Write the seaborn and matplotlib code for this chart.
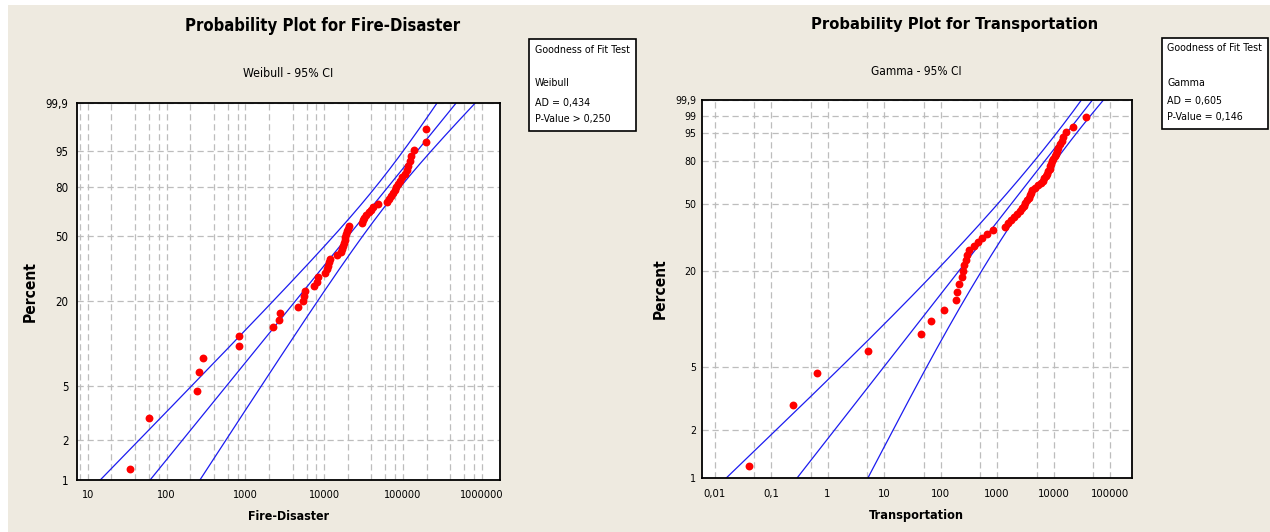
import numpy as np
import pandas as pd
import matplotlib
matplotlib.use("Agg")
import matplotlib.pyplot as plt
import seaborn as sns
from matplotlib import font_manager as fm
from matplotlib.patches import Rectangle
from matplotlib.ticker import NullLocator, LogLocator, NullFormatter
from math import lgamma

# ---------------- data ----------------
fire_disaster = [34, 60, 241, 260, 293, 820, 826, 2280, 2660, 2755,
                 4620, 5450, 5610, 5810, 7350, 8020, 8300, 10280, 10740, 11220,
                 11550, 12070, 14460, 16640, 17140, 17540, 17910, 18280, 18710, 19150,
                 19540, 20130, 20900, 30270, 31620, 32580, 34560, 37170, 39430, 42380,
                 48400, 62080, 66700, 71800, 75000, 79500, 83000, 86800, 92000, 97500,
                 108000, 113000, 118000, 121600, 127000, 138700, 196800, 199500]
transportation = [0.0407, 0.246, 0.647, 5.16, 44.8, 67.6, 116, 190, 194, 210,
                  237, 250, 265, 282, 296, 319, 392, 465, 532, 665,
                  849, 1387, 1585, 1770, 2000, 2233, 2500, 2770, 2970, 3190,
                  3390, 3610, 3760, 3920, 4110, 4710, 5390, 5890, 6440, 6790,
                  7280, 7670, 8060, 8500, 8770, 9030, 9290, 9790, 10500, 11200,
                  11500, 12000, 12800, 13900, 14900, 16600, 21900, 37600]

weibull_shape = 0.73
weibull_scale = 33700.0
weibull_ci_pct = [1, 5, 20, 50, 80, 99.9]
weibull_ci_halfwidth = [0.64, 0.41, 0.32, 0.19, 0.14, 0.24]   # decades of log10(x)

gamma_shape = 0.455
gamma_scale = 9300.0
gamma_ci_pct = [1, 11.5, 50, 99.9]
gamma_ci_halfwidth = [1.255, 0.532, 0.24, 0.195]             # decades of log10(x)

left_yticks = [1, 2, 5, 20, 50, 80, 95, 99.9]
left_ylabels = ["1", "2", "5", "20", "50", "80", "95", "99,9"]
left_xticks = [10, 100, 1000, 10000, 100000, 1000000]
left_xlabels = ["10", "100", "1000", "10000", "100000", "1000000"]
right_yticks = [1, 2, 5, 20, 50, 80, 95, 99, 99.9]
right_ylabels = ["1", "2", "5", "20", "50", "80", "95", "99", "99,9"]
right_xticks = [0.01, 0.1, 1, 10, 100, 1000, 10000, 100000]
right_xlabels = ["0,01", "0,1", "1", "10", "100", "1000", "10000", "100000"]

left_title = "Probability Plot for Fire-Disaster"
left_sub = "Weibull - 95% CI"
left_box = ["Goodness of Fit Test", "Weibull", "AD = 0,434", "P-Value > 0,250"]
right_title = "Probability Plot for Transportation"
right_sub = "Gamma - 95% CI"
right_box = ["Goodness of Fit Test", "Gamma", "AD = 0,605", "P-Value = 0,146"]

# ---------------- theme & fonts ----------------
sns.set_theme(style="white")
names = {f.name for f in fm.fontManager.ttflist}
FAM, STRETCH = "Liberation Sans", "normal"
if "Liberation Sans Narrow" in names:
    FAM = "Liberation Sans Narrow"
elif any(f.name == "DejaVu Sans" and "condensed" in str(f.stretch).lower() for f in fm.fontManager.ttflist):
    FAM, STRETCH = "DejaVu Sans", "condensed"
elif "Liberation Sans" not in names:
    FAM = "DejaVu Sans"
plt.rcParams["font.family"] = [FAM, "DejaVu Sans"]
plt.rcParams["font.stretch"] = STRETCH

# ---------------- probability scales ----------------
def weib_fwd(p):
    p = np.clip(np.asarray(p, float), 1e-9, 100 - 1e-9)
    return np.log(-np.log1p(-p / 100.0))

def weib_inv(w):
    w = np.asarray(w, float)
    return 100.0 * (-np.expm1(-np.exp(w)))

def gamma_cdf(x, k):
    x = np.asarray(x, float)
    out = np.zeros(x.shape)
    pos = x > 0
    xp = np.minimum(x[pos], 100.0)
    term = np.ones_like(xp)
    s = np.ones_like(xp)
    for j in range(1, 420):
        term = term * xp / (k + j)
        s = s + term
    out[pos] = np.exp(k * np.log(xp) - xp - lgamma(k + 1)) * s
    return np.clip(out, 0.0, 1.0)

def gamma_ppf(p, k):
    p = np.clip(np.asarray(p, float), 1e-15, 1 - 1e-12)
    lo = np.full(p.shape, -80.0)
    hi = np.full(p.shape, 4.6)
    for _ in range(64):
        mid = 0.5 * (lo + hi)
        c = gamma_cdf(np.exp(mid), k)
        below = c < p
        lo = np.where(below, mid, lo)
        hi = np.where(below, hi, mid)
    return np.exp(0.5 * (lo + hi))

def gam_fwd(p):
    return np.log(gamma_ppf(np.asarray(p, float) / 100.0, gamma_shape))

def gam_inv(u):
    u = np.clip(np.asarray(u, float), -80, 4.6)
    return 100.0 * gamma_cdf(np.exp(u), gamma_shape)

def positions(n):
    i = np.arange(1, n + 1)
    return 100.0 * (i - 0.3) / (n + 0.4)

# ---------------- figure ----------------
W, H = 1270, 532
fig = plt.figure(figsize=(12.7, 5.32), dpi=100, facecolor="white")
R = fig.canvas.get_renderer()
fig.add_artist(Rectangle((8 / W, 0), 1, 1 - 5 / H, transform=fig.transFigure,
                         facecolor="#EEEAE0", edgecolor="none", zorder=-10))

def fx(x): return x / W
def fy(y): return 1 - y / H

def place(x, y, s, fit_w=None, fit_h=None, weight="normal", ha="center", rotation=0, size=10):
    t = fig.text(fx(x), fy(y), s, ha=ha, va="center", fontsize=size,
                 fontweight=weight, rotation=rotation, color="black")
    if fit_w or fit_h:
        bb = t.get_window_extent(R)
        cur = bb.width if fit_w else bb.height
        t.set_fontsize(size * (fit_w or fit_h) / cur)
    return t

def size_for(s, target, weight="normal"):
    t = fig.text(0, 0, s, fontsize=10, fontweight=weight)
    w = t.get_window_extent(R).width
    t.remove()
    return 10 * target / w

LINE_C = "#1C1CF0"
GRID_KW = dict(color="#BDBDBD", lw=0.9, ls=(0, (5, 3)))

def style_axes(ax):
    ax.set_facecolor("white")
    for sp in ax.spines.values():
        sp.set_color("black")
        sp.set_linewidth(1.3)
    ax.set_axisbelow(True)
    ax.set_xlabel("")
    ax.set_ylabel("")

# ---------------- left: Weibull ----------------
axL = fig.add_axes([fx(77), fy(480), (500 - 77) / W, (480 - 103) / H])
fire_df = pd.DataFrame({"value": np.sort(fire_disaster),
                        "percent": positions(len(fire_disaster))})

wgrid = np.linspace(-4.8, 2.1, 300)
pct_grid = weib_inv(wgrid)
center_log = np.log10(weibull_scale) + wgrid / (weibull_shape * np.log(10))
coef = np.polyfit(weib_fwd(weibull_ci_pct), np.square(weibull_ci_halfwidth), 2)
hw = np.sqrt(np.clip(np.polyval(coef, wgrid), 0.012, None))
for off in (-1, 0, 1):
    line_df = pd.DataFrame({"x": 10 ** (center_log + off * hw), "p": pct_grid})
    sns.lineplot(data=line_df, x="x", y="p", sort=False, estimator=None,
                 color=LINE_C, lw=0.9, ax=axL)
sns.scatterplot(data=fire_df, x="value", y="percent", color="#FF0000", s=32,
                linewidth=0, ax=axL, zorder=4)

axL.set_xscale("log")
axL.set_yscale("function", functions=(weib_fwd, weib_inv))
axL.set_xlim(10 ** 0.863, 10 ** 6.234)
axL.set_ylim(1, 99.9)
axL.set_xticks(left_xticks, left_xlabels)
axL.xaxis.set_minor_locator(LogLocator(base=10, subs=[2, 4, 6, 8], numticks=20))
axL.xaxis.set_minor_formatter(NullFormatter())
axL.set_yticks(left_yticks, left_ylabels)
axL.yaxis.set_minor_locator(NullLocator())
style_axes(axL)
axL.grid(True, which="both", axis="x", **GRID_KW)
axL.grid(True, which="major", axis="y", **GRID_KW)
axL.tick_params(axis="x", which="major", length=3, width=1, pad=4.5, colors="black",
                labelsize=size_for("1000000", 44))
axL.tick_params(axis="x", which="minor", length=0)
axL.tick_params(axis="y", which="major", length=3.6, width=1, pad=2.6, colors="black",
                labelsize=size_for("99,9", 23))

# ---------------- right: Gamma ----------------
axR = fig.add_axes([fx(702.3), fy(478.3), (1132 - 702.3) / W, (478.3 - 100) / H])
trans_df = pd.DataFrame({"value": np.sort(transportation),
                         "percent": positions(len(transportation))})

u_lo = float(gam_fwd(0.8))
u_hi = float(gam_fwd(99.95))
ugrid = np.linspace(u_lo, u_hi, 300)
pct_grid_g = gam_inv(ugrid)
center_log_g = np.log10(gamma_scale) + ugrid / np.log(10)
coef_g = np.polyfit(gam_fwd(np.array(gamma_ci_pct, float)), gamma_ci_halfwidth, 3)
hw_g = np.clip(np.polyval(coef_g, ugrid), 0.05, None)
for off in (-1, 0, 1):
    line_df = pd.DataFrame({"x": 10 ** (center_log_g + off * hw_g), "p": pct_grid_g})
    sns.lineplot(data=line_df, x="x", y="p", sort=False, estimator=None,
                 color=LINE_C, lw=0.9, ax=axR)
sns.scatterplot(data=trans_df, x="value", y="percent", color="#FF0000", s=32,
                linewidth=0, ax=axR, zorder=4)

axR.set_xscale("log")
axR.set_yscale("function", functions=(gam_fwd, gam_inv))
axR.set_xlim(10 ** -2.216, 10 ** 5.389)
axR.set_ylim(1, 99.9)
axR.set_xticks(right_xticks, right_xlabels)
axR.xaxis.set_minor_locator(LogLocator(base=10, subs=[5], numticks=20))
axR.xaxis.set_minor_formatter(NullFormatter())
axR.set_yticks(right_yticks, right_ylabels)
axR.yaxis.set_minor_locator(NullLocator())
style_axes(axR)
axR.grid(True, which="both", axis="x", **GRID_KW)
axR.grid(True, which="major", axis="y", **GRID_KW)
axR.tick_params(axis="x", which="major", length=3, width=1, pad=5, colors="black",
                labelsize=size_for("100000", 39))
axR.tick_params(axis="x", which="minor", length=0)
axR.tick_params(axis="y", which="major", length=2.6, width=1, pad=1.8, colors="black",
                labelsize=size_for("99,9", 21))

# ---------------- texts ----------------
place(322.8, 26, left_title, fit_w=272.5, weight="bold")
place(288, 73, left_sub, fit_w=90)
place(288.2, 516.7, "Fire-Disaster", fit_w=80.8, weight="bold")
place(30, 292, "Percent", fit_h=61, weight="bold", rotation=90)

place(955, 24, right_title, fit_w=284.4, weight="bold")
place(916.2, 71.7, right_sub, fit_w=90.4)
place(916.6, 515.3, "Transportation", fit_w=93.6, weight="bold")
place(660, 289, "Percent", fit_h=60, weight="bold", rotation=90)

def gof_box(x0, x1, y0, y1, tx, ys, lines, width):
    fig.add_artist(Rectangle((fx(x0), fy(y1)), (x1 - x0) / W, (y1 - y0) / H,
                             transform=fig.transFigure, facecolor="white",
                             edgecolor="black", lw=1.2, zorder=2))
    head = place(tx, ys[0], lines[0], fit_w=width, ha="left")
    sz = head.get_fontsize()
    for yy, s in zip(ys[1:], lines[1:]):
        place(tx, yy, s, ha="left", size=sz)

gof_box(529.4, 635.9, 39.3, 130.7, 534.7, [50, 83.3, 102.7, 119], left_box, 96)
gof_box(1161.5, 1267.6, 37.7, 129, 1167, [48.3, 82.7, 100.7, 117.3], right_box, 95)

fig.savefig("out.png", dpi=100, facecolor=fig.get_facecolor())
